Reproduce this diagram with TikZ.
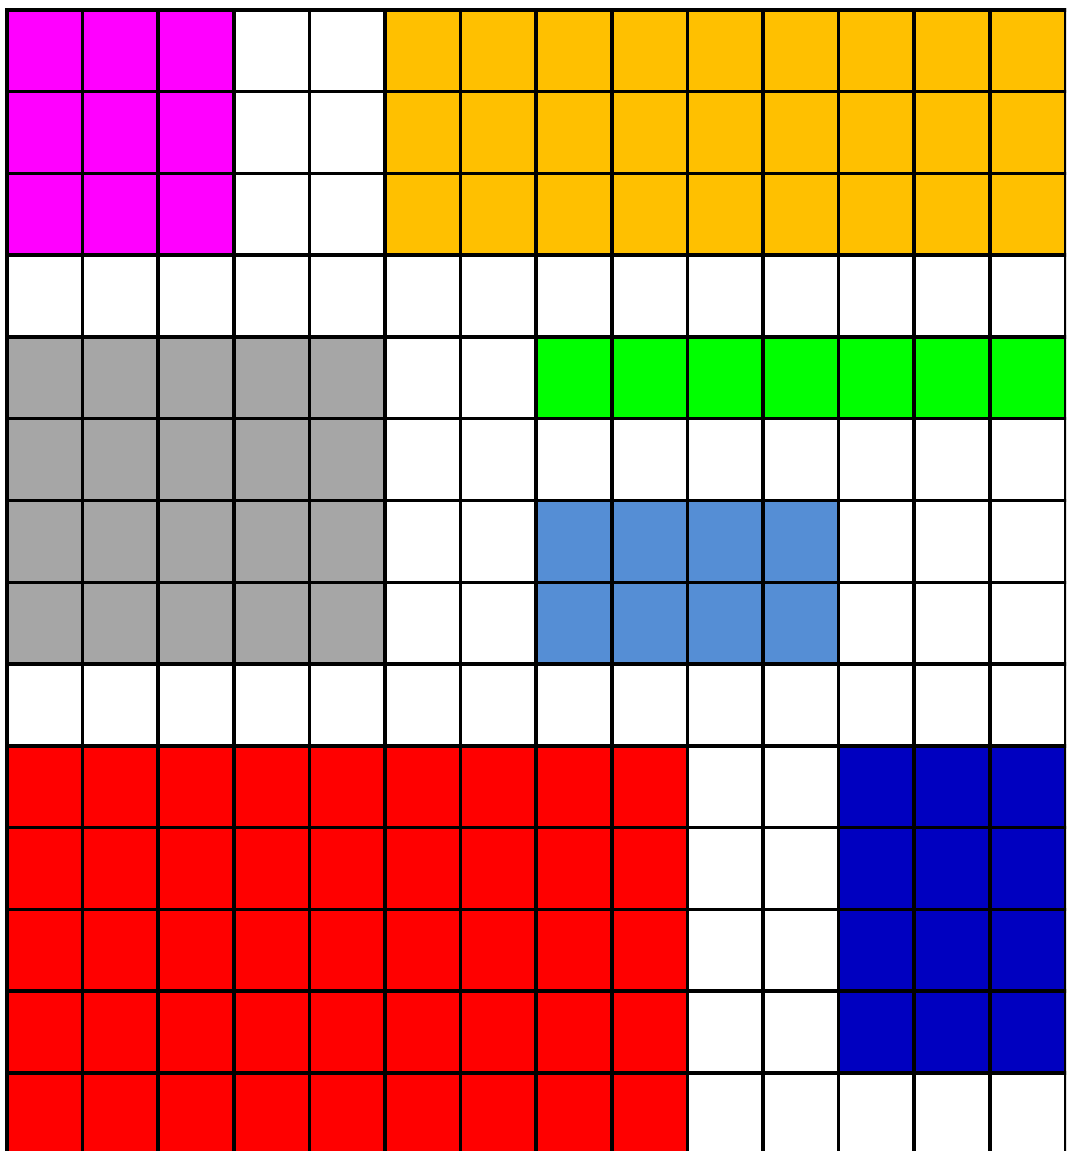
\documentclass[tikz,border=0pt]{standalone}
\usetikzlibrary{positioning}

\definecolor{cellmagenta}{HTML}{FF00FF}
\definecolor{cellorange}{HTML}{FFC000}
\definecolor{cellgray}{HTML}{A6A6A6}
\definecolor{cellgreen}{HTML}{00FF00}
\definecolor{cellblue}{HTML}{558ED5}
\definecolor{cellred}{HTML}{FF0000}
\definecolor{celldarkblue}{HTML}{0000C0}

% block of cells: col0,row0,col1,row1,colour
\newcommand{\cellblock}[5]{%
  \fill[#5] (7+75.6*#1,10+81.75*#2) rectangle (7+75.6*#3,10+81.75*#4);}

\begin{document}
\begin{tikzpicture}[x=0.02cm,y=-0.02cm,
    gridline/.style={black,line width=0.07cm}]
    \useasboundingbox (0,0) rectangle (1066,1151);
    \clip (0,0) rectangle (1066,1151);

    % Coloured regions
    \cellblock{0}{0}{3}{3}{cellmagenta}
    \cellblock{5}{0}{14}{3}{cellorange}
    \cellblock{0}{4}{5}{8}{cellgray}
    \cellblock{7}{4}{14}{5}{cellgreen}
    \cellblock{7}{6}{11}{8}{cellblue}
    \cellblock{0}{9}{9}{15}{cellred}
    \cellblock{11}{9}{14}{13}{celldarkblue}

    % Grid
    \foreach \i in {0,...,14}
        \draw[gridline] (7+75.6*\i,8.25) -- (7+75.6*\i,1170);
    \foreach \j in {0,...,14}
        \draw[gridline] (5.25,10+81.75*\j) -- (1066.6,10+81.75*\j);
\end{tikzpicture}
\end{document}
